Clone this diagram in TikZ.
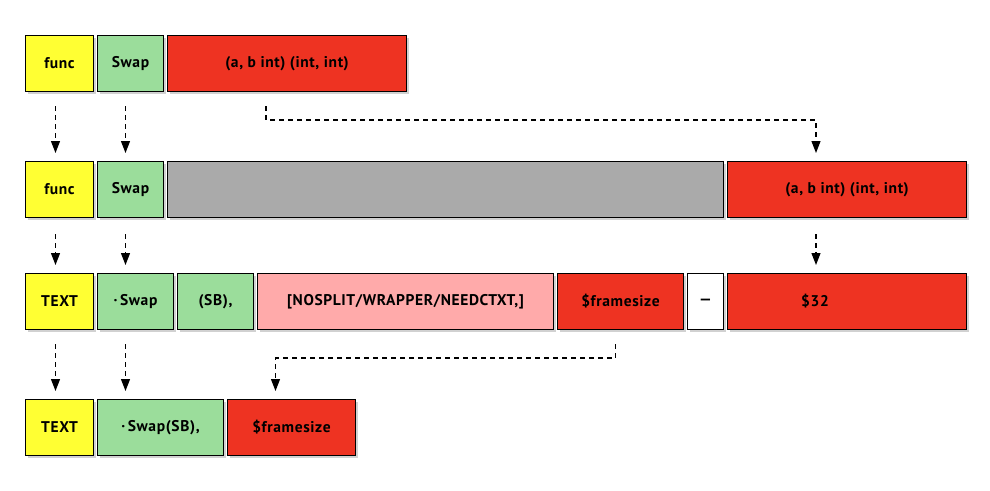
\documentclass[tikz,border=0pt]{standalone}
\usepackage{fontspec}
\setmainfont[LetterSpace=4]{PT Sans}
\usetikzlibrary{arrows.meta,shadows,calc}
\definecolor{cyel}{HTML}{FFFF33}
\definecolor{cgrn}{HTML}{9BDD9B}
\definecolor{cred}{HTML}{EE3322}
\definecolor{cgry}{HTML}{AAAAAA}
\definecolor{cpnk}{HTML}{FFAAAA}
\tikzset{
  box/.style={draw=black, line width=1pt, rectangle, anchor=north west, inner sep=0pt,
    minimum height=56pt, font=\fontsize{15.5}{18}\selectfont\bfseries,
    drop shadow={shadow xshift=2.5pt, shadow yshift=-2.5pt, fill=black, opacity=0.18}},
  lbl/.style={inner sep=0pt, font=\fontsize{15.5}{18}\selectfont\bfseries},
  arr/.style={line width=1.1pt, dash pattern=on 5pt off 4pt, -{Triangle[width=9pt,length=12pt]}}
}
\begin{document}
\begin{tikzpicture}[x=1pt,y=-1pt]
\useasboundingbox (0,0) rectangle (990,490);
% row 1
\node[box, fill=cyel, minimum width=68pt] (f1) at (25,35) {func};
\node[box, fill=cgrn, minimum width=66pt] (s1) at (97,35) {Swap};
\node[box, fill=cred, minimum width=239pt] (r1) at (167,35) {(a, b int) (int, int)};
% row 2
\node[box, fill=cyel, minimum width=68pt] (f2) at (25,161) {func};
\node[box, fill=cgrn, minimum width=66pt] (s2) at (97,161) {Swap};
\node[box, fill=cgry, minimum width=556pt] (g2) at (167,161) {};
\node[box, fill=cred, minimum width=239pt] (r2) at (727,161) {(a, b int) (int, int)};
% row 3
\node[box, fill=cyel, minimum width=68pt] (t3) at (25,273) {TEXT};
\node[box, fill=cgrn, minimum width=76pt] (s3) at (97,273) {·\,Swap};
\node[box, fill=cgrn, minimum width=76pt] (sb3) at (177,273) {(SB),};
\node[box, fill=cpnk, minimum width=296pt] (p3) at (257,273) {[NOSPLIT/WRAPPER/NEEDCTXT,]};
\node[box, fill=cred, minimum width=126pt] (fs3) at (557,273) {\$framesize};
\node[box, fill=white, minimum width=36pt] (w3) at (687,273) {\addfontfeature{LetterSpace=0}—};
\node[box, fill=cred, minimum width=239pt] (c3) at (727,273) {};
\node[lbl] (c3t) at ($(c3.center)+(-32,0)$) {\$32};
% row 4
\node[box, fill=cyel, minimum width=68pt] (t4) at (25,399) {TEXT};
\node[box, fill=cgrn, minimum width=126pt] (s4) at (97,399) {·\,Swap(SB),};
\node[box, fill=cred, minimum width=128pt] (fs4) at (227,399) {\$framesize};
% arrows row1 -> row2
\draw[arr] ($(f1.south)+(-4,14)$) -- ($(f2.north)+(-4,-8)$);
\draw[arr] ($(s1.south)+(-5,14)$) -- ($(s2.north)+(-5,-8)$);
\draw[arr] ($(r1.south)+(-21,14)$) -- ++(0,14) -| ($(r2.north)+(-31,-8)$);
% arrows row2 -> row3
\draw[arr] ($(f2.south)+(-4,16)$) -- ($(t3.north)+(-4,-8)$);
\draw[arr] ($(s2.south)+(-5,16)$) -- ($(s3.north)+(-10,-8)$);
\draw[arr] ($(r2.south)+(-31,16)$) -- ($(c3.north)+(-31,-8)$);
% arrows row3 -> row4
\draw[arr] ($(t3.south)+(-4,14)$) -- ($(t4.north)+(-4,-8)$);
\draw[arr] ($(s3.south)+(-10,14)$) -- ($(s4.north)+(-35,-8)$);
\draw[arr] ($(fs3.south)+(-5,14)$) -- ++(0,14) -| ($(fs4.north)+(-16,-8)$);
\end{tikzpicture}
\end{document}
